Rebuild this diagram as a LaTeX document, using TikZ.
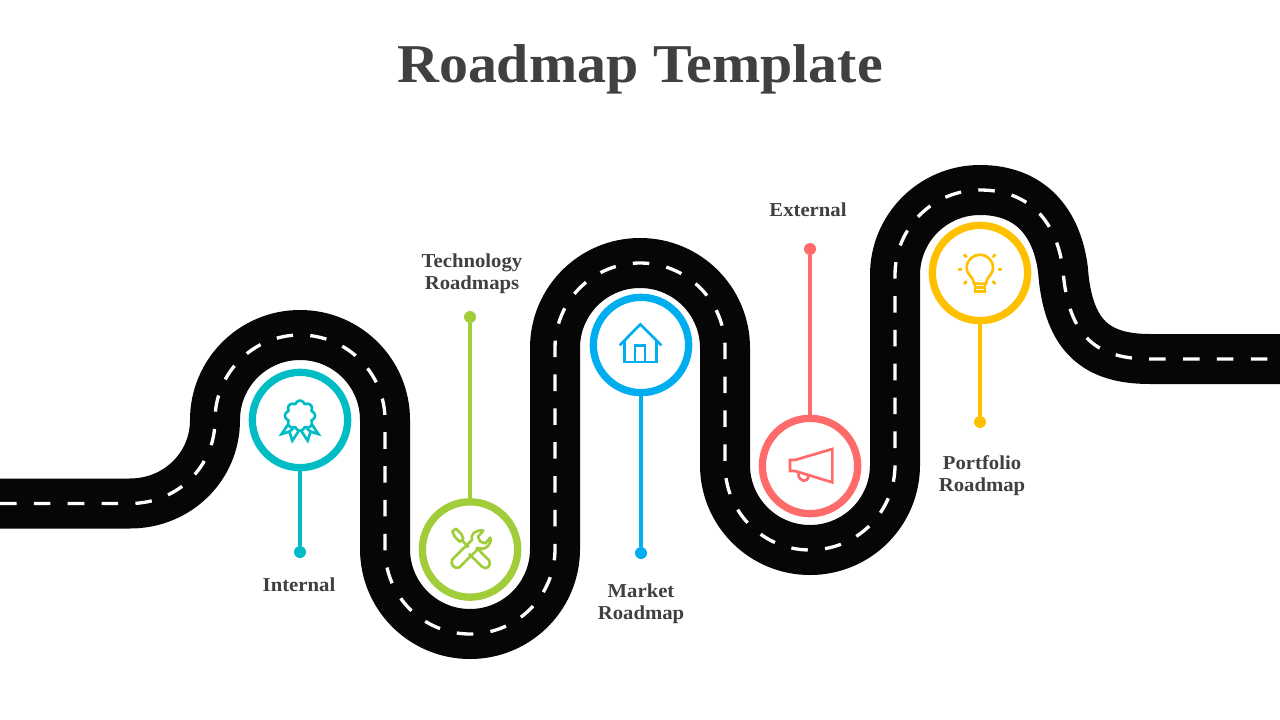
\documentclass[tikz,border=0pt]{standalone}
\usepackage{fontspec}
\setmainfont{Liberation Serif}
\newfontfamily\headfont[FakeStretch=1.06]{Liberation Serif}
\newfontfamily\labfont[FakeStretch=1.05]{Liberation Serif}
\definecolor{ink}{HTML}{404040}
\definecolor{roadc}{HTML}{060606}
\definecolor{cteal}{HTML}{00BCC4}
\definecolor{cgreen}{HTML}{A2CD3A}
\definecolor{cblue}{HTML}{00AEEF}
\definecolor{ccoral}{HTML}{FF6B6B}
\definecolor{cyellow}{HTML}{FFC000}
\def\roadpath{(0,503.5) -- (130,503.5) .. controls (177,503.5) and (215,467) .. (215,420)
 .. controls (215,373) and (253,335) .. (300,335) .. controls (347,335) and (385,373) .. (385,420)
 -- (385,549) .. controls (385,596) and (423,634) .. (470,634) .. controls (517,634) and (555,596) .. (555,549)
 -- (555,348) .. controls (555,301) and (593,263) .. (640,263) .. controls (687,263) and (725,301) .. (725,348)
 -- (725,465) .. controls (725,512) and (763,550) .. (810,550) .. controls (857,550) and (895,512) .. (895,465)
 -- (895,275) .. controls (895,228) and (933,190) .. (980,190) .. controls (1030,190) and (1057,222) .. (1063,270)
 .. controls (1068,338) and (1098,359) .. (1150,359) -- (1280,359)}
\tikzset{
  ring/.style={circle,draw=#1,fill=white,line width=5.5pt,minimum size=71.5pt,inner sep=0pt},
  pin/.style={circle,fill=#1,minimum size=9pt,inner sep=0pt},
  stem/.style={draw=#1,line width=2.5pt},
  lab/.style={text=ink,align=center,font=\labfont\fontsize{14.8}{16.5}\selectfont\bfseries},
  icon/.style={draw=#1,line width=2pt,line join=miter,fill=none},
  zoomed/.style={shift={#1},x=0.25pt,y=-0.25pt}
}
\begin{document}
\begin{tikzpicture}[x=0.75pt,y=-0.75pt]
\useasboundingbox (0,0) rectangle (1280,720);
\fill[white] (0,0) rectangle (1280,720);
\node[text=ink,anchor=base,font=\headfont\fontsize{41}{48}\selectfont\bfseries] (title) at (640,83) {Roadmap Template};
\draw[roadc,line width=37.5pt] \roadpath;
\draw[white,line width=2.5pt,dash pattern=on 12.4pt off 13pt] \roadpath;
% rings
\node[ring=cteal] (r1) at (300,420) {};
\node[ring=cgreen] (r2) at (470,549.5) {};
\node[ring=cblue] (r3) at (641,345) {};
\node[ring=ccoral] (r4) at (810,466) {};
\node[ring=cyellow] (r5) at (980,273) {};
% pins
\node[pin=cteal] (p1) at (300,552) {};
\node[pin=cgreen] (p2) at (470,317) {};
\node[pin=cblue] (p3) at (641,553) {};
\node[pin=ccoral] (p4) at (810,249) {};
\node[pin=cyellow] (p5) at (980,422) {};
\draw[stem=cteal] (r1) -- (p1);
\draw[stem=cgreen] (r2) -- (p2);
\draw[stem=cblue] (r3) -- (p3);
\draw[stem=ccoral] (r4) -- (p4);
\draw[stem=cyellow] (r5) -- (p5);
% labels
\node[lab] (l1) at (299,585) {Internal};
\node[lab] (l2) at (472,273.5) {Technology\\Roadmaps};
\node[lab] (l3) at (641,603.5) {Market\\Roadmap};
\node[lab] (l4) at (808,210) {External};
\node[lab] (l5) at (982,475.5) {Portfolio\\Roadmap};
% icon 1: rosette
\begin{scope}[zoomed={(240,360)}]
\draw[icon=cteal] plot[domain=0:360,samples=121,smooth] ({180+(37+8*abs(cos(4*\x)))*cos(\x)},{167+(37+8*abs(cos(4*\x)))*sin(\x)}) -- cycle;
\draw[icon=cteal] (143,195) -- (125,222) -- (148,215) -- (157,242) -- (178,210);
\draw[icon=cteal] (217,195) -- (235,222) -- (212,215) -- (203,242) -- (182,210);
\draw[icon=cteal] (148,215) -- (160,205) (212,215) -- (200,205);
\end{scope}
% icon 2: tools
\begin{scope}[zoomed={(410,490)}]
\draw[icon=cgreen,line join=round] (127,208) -- (186,150) .. controls (180,135) and (195,118) .. (220,122)
 -- (204,140) -- (211,155) -- (226,160) -- (241,143) .. controls (246,165) and (225,182) .. (206,175)
 -- (148,232) .. controls (135,240) and (118,222) .. (127,208) -- cycle;
\draw[icon=cgreen,line join=round] (127,124) -- (138,116) -- (155,133) -- (160,148) -- (149,155) -- (134,140) -- cycle;
\draw[icon=cgreen] (155,150) -- (176,172);
\draw[icon=cgreen,line join=round] (199,172) -- (238,212) .. controls (245,228) and (228,242) .. (216,230) -- (177,191);
\end{scope}
% icon 3: house
\begin{scope}[zoomed={(580,285)}]
\draw[icon=cblue] (119,181) -- (181,118) -- (244,181);
\draw[icon=cblue] (134,168) -- (134,231) -- (230,231) -- (230,168);
\draw[icon=cblue] (165,231) -- (165,181) -- (195,181) -- (195,231);
\end{scope}
% icon 4: megaphone
\begin{scope}[zoomed={(750,405)}]
\draw[icon=ccoral] (120,165) -- (135,165) -- (247,132) -- (247,232) -- (135,198) -- (120,198) -- cycle;
\draw[icon=ccoral] (145,205) .. controls (145,232) and (175,235) .. (175,212);
\end{scope}
% icon 5: bulb
\begin{scope}[zoomed={(920,215)}]
\draw[icon=cyellow] (162,206) .. controls (162,185) and (140,182) .. (140,158) .. controls (140,135) and (160,119) .. (180,119)
 .. controls (200,119) and (219,135) .. (219,158) .. controls (219,182) and (198,185) .. (198,206) -- cycle;
\draw[icon=cyellow] (165,206) -- (165,230) -- (195,230) -- (195,206);
\draw[icon=cyellow] (165,218) -- (195,218);
\draw[icon=cyellow] (114,163) -- (126,163) (234,163) -- (246,163) (132,118) -- (140,127) (226,118) -- (218,127)
 (132,207) -- (140,198) (226,207) -- (218,198);
\end{scope}
\end{tikzpicture}
\end{document}
